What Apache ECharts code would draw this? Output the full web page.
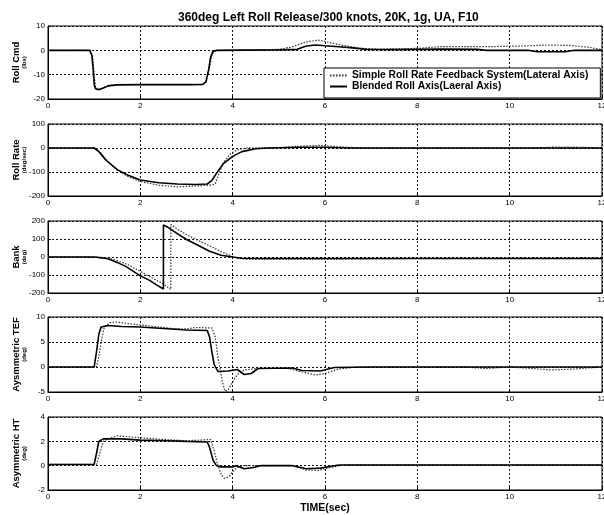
<!DOCTYPE html>
<html>
<head>
<meta charset="utf-8">
<script src="https://cdn.jsdelivr.net/npm/echarts@6/dist/echarts.min.js"></script>
<style>
html,body{margin:0;padding:0;background:#fff;}
#c{width:604px;height:515px;}
</style>
</head>
<body>
<div id="c"></div>
<script>
// ---------- data (time in sec, value) ----------
const titleText = '360deg Left Roll Release/300 knots, 20K, 1g, UA, F10';
const seriesNames = ['Simple Roll Rate Feedback System(Lateral Axis)', 'Blended Roll Axis(Laeral Axis)'];
const xTicks = [0, 2, 4, 6, 8, 10, 12];

const panelNames = ['Roll Cmd', 'Roll Rate', 'Bank', 'Aysmmetric TEF', 'Asymmetric HT'];
const panelUnits = ['(lbs)', '(deg/sec)', '(deg)', '(deg)', '(deg)'];
const yMin = [-20, -200, -200, -5, -2];
const yMax = [10, 100, 200, 10, 4];
const yStep = [10, 100, 100, 5, 2];

const rollCmdSimple = [[0,0],[0.92,0],[0.97,-3],[1.0,-10],[1.03,-15],[1.08,-16],[1.15,-15.8],[1.3,-14.5],[1.5,-14.1],[3.35,-14.1],[3.42,-13],[3.5,-7],[3.55,-2],[3.6,-0.3],[3.7,0],[5.0,0.4],[5.3,1.5],[5.6,3.5],[5.85,4.2],[6.1,3.2],[6.4,2.0],[6.8,0.8],[7.2,0.5],[8.0,0.8],[8.5,1.5],[9.5,1.5],[10.3,1.8],[10.8,2.2],[11.3,2.0],[11.7,1.3],[12,0.3]];
const rollCmdBlended = [[0,0],[0.9,0],[0.95,-2],[0.98,-8],[1.0,-14],[1.03,-15.8],[1.1,-16.2],[1.2,-15.5],[1.3,-14.6],[1.5,-14.2],[2.0,-14.1],[3.0,-14.1],[3.35,-14],[3.42,-13],[3.48,-8],[3.52,-3],[3.57,-0.5],[3.65,0],[5.0,0.2],[5.4,0.4],[5.5,1.2],[5.6,1.8],[5.8,2.2],[6.0,1.9],[6.3,1.5],[6.6,1.0],[6.9,0.4],[7.5,0.3],[8.5,0.5],[9.3,0.4],[9.5,0],[10.4,0],[10.6,-0.6],[11.2,-0.6],[11.4,0],[12,0]];

const rollRateSimple = [[0,0],[1.02,0],[1.12,-15],[1.27,-50],[1.5,-92],[1.75,-120],[2.0,-140],[2.4,-155],[2.8,-162],[3.2,-158],[3.5,-155],[3.62,-150],[3.7,-110],[3.8,-60],[3.95,-25],[4.1,-8],[4.3,0],[5.0,2],[5.5,8],[5.9,11],[6.3,5],[6.8,0],[10.5,0],[11,4],[11.6,3],[12,0]];
const rollRateBlended = [[0,0],[1.0,0],[1.1,-15],[1.25,-50],[1.5,-90],[1.75,-115],[2.0,-133],[2.4,-145],[2.8,-150],[3.2,-152],[3.45,-150],[3.55,-135],[3.65,-105],[3.8,-65],[4.0,-35],[4.2,-15],[4.5,-3],[4.8,0],[5.5,3],[6.0,3],[6.5,0],[12,0]];

const bankSimple = [[0,0],[1.05,0],[1.3,-5],[1.5,-20],[1.75,-45],[2.0,-80],[2.25,-115],[2.5,-150],[2.58,-165],[2.66,-180],[2.66,180],[2.8,155],[3.0,125],[3.25,92],[3.5,62],[3.75,30],[3.95,8],[4.1,-8],[4.3,-12],[6,-12],[8,-8],[12,-5]];
const bankBlended = [[0,0],[1.0,0],[1.3,-10],[1.5,-30],[1.7,-55],[1.85,-80],[2.0,-105],[2.2,-130],[2.35,-155],[2.5,-178],[2.5,178],[2.6,165],[2.8,130],[3.0,97],[3.25,65],[3.5,32],[3.75,10],[4.0,0],[4.2,-7],[4.6,-8],[12,-8]];

const tefSimple = [[0,0],[1.05,0],[1.1,2],[1.15,5],[1.22,8],[1.35,8.9],[1.5,9.0],[1.8,8.6],[2.2,8.2],[2.7,7.7],[3.0,7.6],[3.2,7.9],[3.55,7.8],[3.62,6],[3.68,2],[3.72,0],[3.78,-3],[3.83,-4.8],[3.9,-4.6],[4.0,-3],[4.1,-1.5],[4.25,-0.6],[4.5,-0.3],[5.2,-0.3],[5.5,-1],[5.8,-1.6],[6.0,-1.3],[6.3,-0.4],[6.7,0],[9,0],[9.5,-0.3],[10,0],[10.5,-0.3],[10.9,-0.6],[11.4,-0.4],[12,0]];
const tefBlended = [[0,0],[1.0,0],[1.05,3],[1.1,6.5],[1.15,8],[1.3,8.3],[1.6,8.1],[2.0,8.0],[2.5,7.7],[3.0,7.4],[3.45,7.3],[3.5,6],[3.55,3],[3.6,0.5],[3.68,-0.9],[3.9,-0.8],[4.1,-0.5],[4.25,-1.5],[4.4,-1.3],[4.55,-0.3],[5.3,-0.2],[5.5,-0.7],[5.9,-0.8],[6.2,-0.1],[7,0],[12,0]];

const htSimple = [[0,0.1],[1.05,0.1],[1.12,1.0],[1.2,2.0],[1.3,2.2],[1.5,2.45],[2.0,2.3],[2.5,2.15],[3.0,2.05],[3.3,2.1],[3.52,2.15],[3.6,1.2],[3.68,0],[3.75,-0.7],[3.82,-1.05],[3.92,-0.9],[4.0,-0.5],[4.1,-0.15],[4.25,0],[5.3,0],[5.6,-0.35],[5.85,-0.4],[6.1,-0.15],[6.4,0.05],[12,0.05]];
const htBlended = [[0,0.1],[1.0,0.1],[1.05,1.0],[1.1,2.0],[1.2,2.2],[1.6,2.2],[2.0,2.1],[2.6,2.05],[3.0,2.0],[3.45,1.95],[3.5,1.5],[3.58,0.4],[3.65,0],[3.75,-0.1],[4.0,-0.1],[4.08,0],[4.25,-0.25],[4.45,-0.15],[4.6,0],[5.3,0],[5.6,-0.25],[5.9,-0.2],[6.3,0.05],[12,0.05]];

const simpleData = [rollCmdSimple, rollRateSimple, bankSimple, tefSimple, htSimple];
const blendedData = [rollCmdBlended, rollRateBlended, bankBlended, tefBlended, htBlended];

// ---------- layout ----------
const FONT = "'Liberation Sans', Arial, sans-serif";
const gridTops = [26, 124, 221, 317, 417];
const gridHeights = [73, 72, 72, 75, 73];

const grids = [], xAxes = [], yAxes = [], series = [];
for (let i = 0; i < 5; i++) {
  grids.push({left: 48, right: 2, top: gridTops[i], height: gridHeights[i],
    outerBoundsMode: 'none', containLabel: false,
    show: true, borderColor: '#000', borderWidth: 1, backgroundColor: '#fff'});
  xAxes.push({
    type: 'value', gridIndex: i, min: xTicks[0], max: xTicks[xTicks.length - 1], interval: 2,
    axisLine: {show: true, onZero: false, lineStyle: {color: '#000', width: 1}},
    axisTick: {show: true, inside: true, length: 3, lineStyle: {color: '#000'}},
    axisLabel: {color: '#000', fontSize: 8, fontFamily: FONT, margin: 3},
    splitLine: {show: true, lineStyle: {color: '#111', type: [2, 2], width: 1}},
    name: i === 4 ? 'TIME(sec)' : '', nameLocation: 'middle', nameGap: 13,
    nameMoveOverlap: false,
    nameTextStyle: {color: '#000', fontSize: 10.5, fontWeight: 'bold', fontFamily: FONT}
  });
  yAxes.push({
    type: 'value', gridIndex: i, min: yMin[i], max: yMax[i], interval: yStep[i],
    axisLine: {show: true, onZero: false, lineStyle: {color: '#000', width: 1}},
    axisTick: {show: true, inside: true, length: 3, lineStyle: {color: '#000'}},
    axisLabel: {color: '#000', fontSize: 8, fontFamily: FONT, margin: 3},
    splitLine: {show: true, lineStyle: {color: '#111', type: [2, 2], width: 1}},
    name: '{a|' + panelNames[i] + '}\n{b|' + panelUnits[i] + '}',
    nameLocation: 'middle', nameRotate: 90, nameGap: 20, nameMoveOverlap: false,
    nameTextStyle: {color: '#000', fontFamily: FONT,
      rich: {a: {fontSize: 9.5, fontWeight: 'bold', lineHeight: 10, fontFamily: FONT, color: '#000'},
             b: {fontSize: 6, fontWeight: 'bold', lineHeight: 7, fontFamily: FONT, color: '#000'}}}
  });
  series.push({
    name: seriesNames[0], type: 'line', xAxisIndex: i, yAxisIndex: i,
    data: simpleData[i], symbol: 'none', showSymbol: false, z: 2,
    lineStyle: {color: '#333', width: 1.2, type: [1.5, 1.5]}, itemStyle: {color: '#333'}
  });
  series.push({
    name: seriesNames[1], type: 'line', xAxisIndex: i, yAxisIndex: i,
    data: blendedData[i], symbol: 'none', showSymbol: false, z: 3,
    lineStyle: {color: '#000', width: 1.6, type: 'solid'}, itemStyle: {color: '#000'}
  });
}

const chart = echarts.init(document.getElementById('c'), null, {renderer: 'canvas'});
chart.setOption({
  animation: false,
  backgroundColor: '#fff',
  title: {text: titleText, left: 173, top: 7,
    textStyle: {color: '#000', fontSize: 12, fontWeight: 'bold', fontFamily: FONT}},
  legend: {
    orient: 'vertical', left: 324, top: 68, z: 10,
    data: seriesNames,
    padding: [2, 12, 6, 5], itemGap: 0, itemWidth: 17, itemHeight: 9,
    itemStyle: {opacity: 0},
    backgroundColor: '#fff', borderColor: '#000', borderWidth: 1, borderRadius: 0,
    textStyle: {color: '#000', fontSize: 10.3, fontWeight: 'bold', fontFamily: FONT, lineHeight: 11}
  },
  grid: grids, xAxis: xAxes, yAxis: yAxes, series: series
});
</script>
</body>
</html>
